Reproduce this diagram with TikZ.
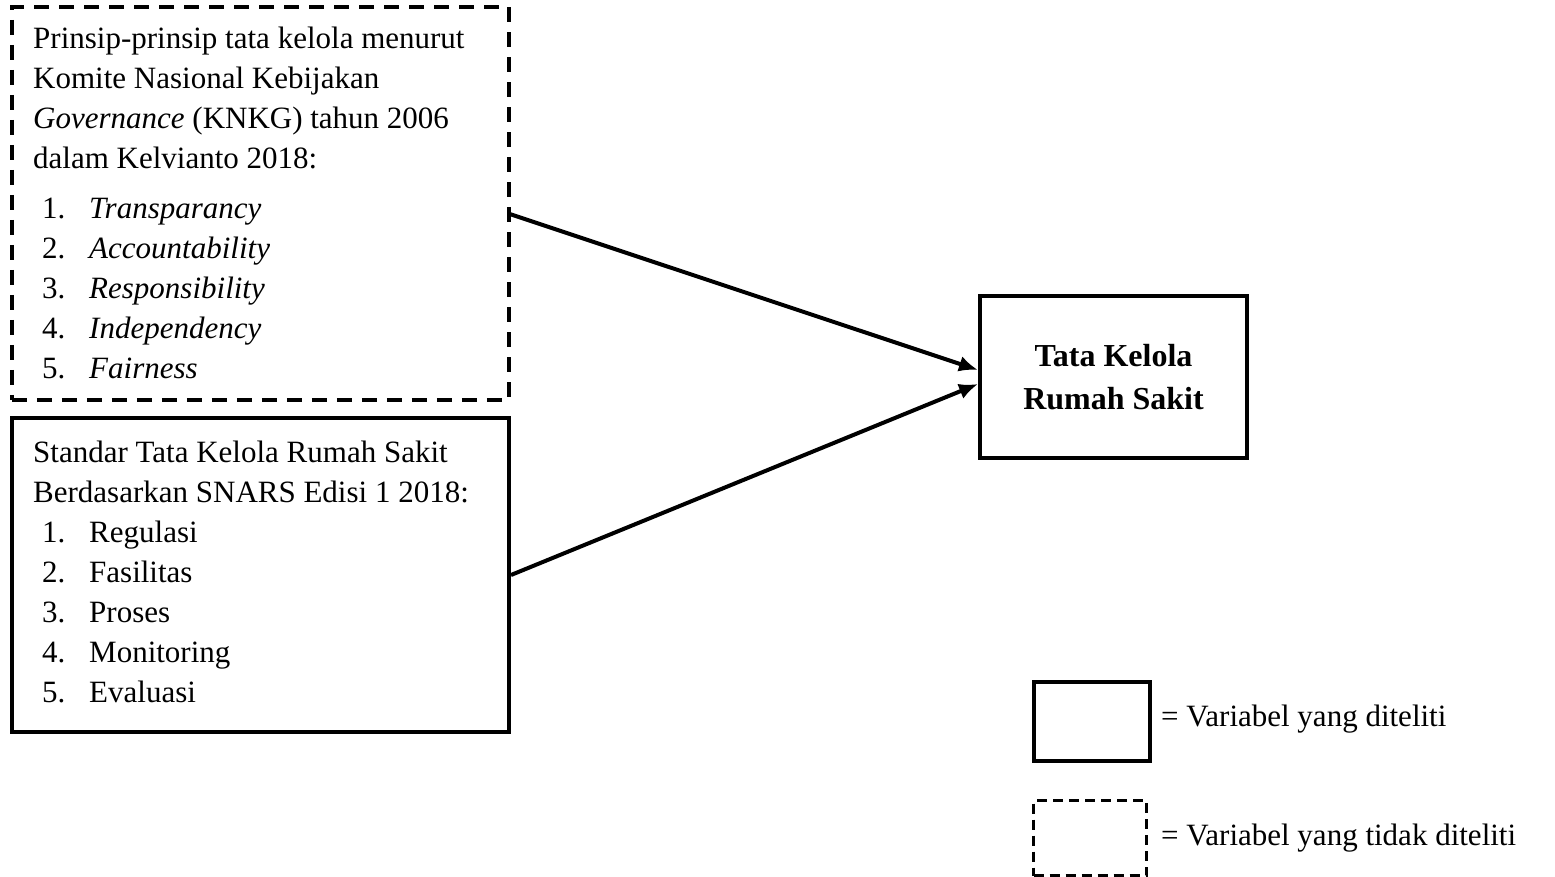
\documentclass[tikz,border=0pt]{standalone}
\usepackage{fontspec}
\setmainfont{Liberation Serif}
\usetikzlibrary{arrows.meta}

\tikzset{
  dashbox/.style={draw, line width=3.5pt, dash pattern=on 15pt off 10pt, inner sep=0pt, anchor=north west},
  solidbox/.style={draw, line width=4pt, inner sep=0pt, anchor=north west},
  boxtext/.style={inner sep=0pt, anchor=north west, align=left, font=\fontsize{31}{40}\selectfont},
  legtext/.style={inner sep=0pt, anchor=west, font=\fontsize{31}{40}\selectfont},
  arrowline/.style={line width=4pt, -{Latex[length=19pt,width=16pt]}}
}
\newcommand{\itm}[2]{\hspace*{9pt}\makebox[47pt][l]{#1}#2}

\begin{document}
\begin{tikzpicture}[x=1pt, y=-1pt]
  \useasboundingbox (0,0) rectangle (1555,876);

  % Draw the left boxes
  \node[dashbox, minimum width=497pt, minimum height=393pt] (knkg) at (10,5) {};
  \node[boxtext] (knkgtext) at (33,27) {Prinsip-prinsip tata kelola menurut\\
    Komite Nasional Kebijakan\\
    \textit{Governance} (KNKG) tahun 2006\\
    dalam Kelvianto 2018:\\[10pt]
    \itm{1.}{\textit{Transparancy}}\\
    \itm{2.}{\textit{Accountability}}\\
    \itm{3.}{\textit{Responsibility}}\\
    \itm{4.}{\textit{Independency}}\\
    \itm{5.}{\textit{Fairness}}};

  \node[solidbox, minimum width=497pt, minimum height=314pt] (snars) at (10,416) {};
  \node[boxtext] (snarstext) at (33,441) {Standar Tata Kelola Rumah Sakit\\
    Berdasarkan SNARS Edisi 1 2018:\\
    \itm{1.}{Regulasi}\\
    \itm{2.}{Fasilitas}\\
    \itm{3.}{Proses}\\
    \itm{4.}{Monitoring}\\
    \itm{5.}{Evaluasi}};

  % Draw the target box
  \node[solidbox, minimum width=267pt, minimum height=162pt, align=center,
        font=\fontsize{32}{43}\selectfont\bfseries] (tkrs) at (978,294)
        {Tata Kelola\\Rumah Sakit};

  % Draw arrows
  \draw[arrowline] ([yshift=-11pt]knkg.east) -- ([yshift=7pt]tkrs.west);
  \draw[arrowline] (snars.east) -- ([yshift=-7pt]tkrs.west);

  % Draw legend
  \node[solidbox, minimum width=116pt, minimum height=79pt] (legsolid) at (1032,680) {};
  \node[legtext] (legsolidtext) at (1161,719) {= Variabel yang diteliti};
  \node[dashbox, line width=3pt, dash pattern=on 10pt off 6pt,
        minimum width=113pt, minimum height=75pt] (legdash) at (1032,799) {};
  \node[legtext] (legdashtext) at (1161,838) {= Variabel yang tidak diteliti};
\end{tikzpicture}
\end{document}
